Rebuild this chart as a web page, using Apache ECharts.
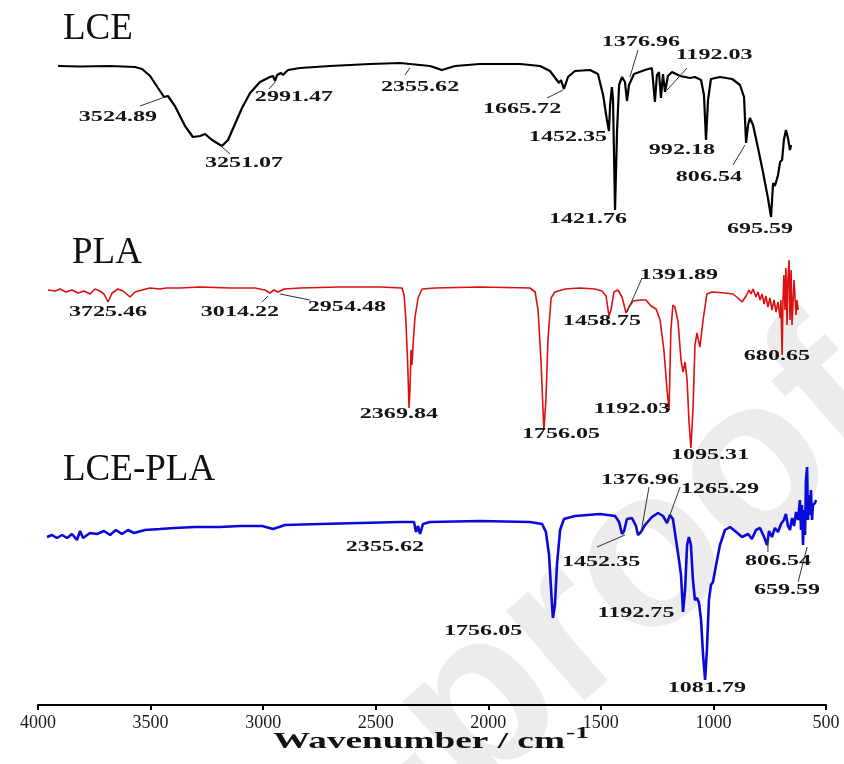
<!DOCTYPE html>
<html>
<head>
<meta charset="utf-8">
<script src="https://cdn.jsdelivr.net/npm/echarts@6/dist/echarts.min.js"></script>
<style>
html,body{margin:0;padding:0;background:#fff;}
#c{width:844px;height:764px;}
</style>
</head>
<body>
<div id="c"></div>
<script>
// ---------- data ----------
const xTicks = [4000, 3500, 3000, 2500, 2000, 1500, 1000, 500];

const lceWavenumber = [3911,3813,3680,3569,3538,3502,3467,3440,3423,3392,
  3347,3312,3280,3258,3227,3183,3156,3125,3094,3058,
  3014,2970,2956,2947,2938,2921,2912,2890,2836,2703,
  2525,2392,2259,2206,2148,2037,1859,1770,1726,1699,
  1686,1677,1664,1646,1615,1548,1513,1490,1473,1464,
  1459,1451,1446,1437,1428,1419,1406,1393,1384,1375,
  1353,1304,1273,1260,1251,1242,1233,1224,1215,1202,
  1184,1148,1104,1082,1055,1042,1033,1024,1011,971,
  917,882,864,855,846,838,824,802,780,758,
  744,735,727,713,704,695,687,678,669,660,655];
const lceSignal = [127.8,127.7,127.8,127.6,127.2,125.8,123.4,121.6,121.8,119.8,
  115.8,113.6,113.8,114.2,113.0,111.8,113.0,116.2,119.4,122.4,
  124.6,125.6,125.8,124.8,126.0,126.4,126.0,127.0,127.4,127.8,
  128.2,128.4,127.8,127.0,127.8,128.2,128.2,127.8,126.8,125.2,
  124.4,125.0,123.2,125.6,126.8,127.0,126.2,122.0,117.0,114.8,
  120.0,123.6,121.0,99.0,115.0,124.0,125.6,124.6,120.8,124.0,
  126.2,127.0,127.4,120.6,126.0,126.6,121.4,126.2,122.6,125.8,
  126.6,125.8,125.4,125.6,125.0,122.0,113.0,121.0,125.2,125.6,
  125.2,124.0,121.6,112.4,116.0,117.4,116.0,111.4,106.6,101.4,
  97.6,104.4,103.8,106.0,108.6,109.0,113.0,115.0,113.4,111.0,112.0];

const plaWavenumber = [3956,3924,3902,3876,3849,3822,3796,3769,3747,3725,
  3707,3689,3671,3645,3622,3591,3569,3538,3502,3458,
  3431,3369,3280,3147,3036,2992,2970,2952,2934,2907,
  2836,2659,2481,2383,2374,2366,2357,2352,2348,2343,
  2339,2334,2326,2312,2294,2237,2037,1815,1792,1779,
  1766,1757,1753,1744,1735,1721,1704,1659,1593,1526,
  1495,1477,1464,1455,1442,1424,1406,1388,1375,1357,
  1326,1300,1277,1255,1237,1220,1206,1197,1189,1180,
  1171,1157,1144,1135,1126,1117,1109,1100,1091,1082,
  1073,1064,1060,1046,1029,1006,949,913,891,873,
  855,842,833,824,811,802,793,784,775,767,
  758,749,740,731,722,713,704,700,695,691,
  687,682,678,673,669,664,660,655,651,642,633,629,624];
const plaSignal = [83.0,82.8,83.2,82.6,83.0,82.4,82.8,82.2,83.2,82.8,
  82.2,80.6,82.4,83.2,82.8,81.6,82.6,83.0,83.4,83.2,
  83.4,83.4,83.6,83.4,83.4,83.0,82.4,83.0,82.6,83.2,
  83.4,83.6,83.6,83.4,82.0,77.0,67.0,59.4,63.0,71.0,
  68.0,72.0,77.4,81.4,83.2,83.4,83.6,83.4,82.6,79.0,
  69.0,59.0,55.0,61.0,73.0,81.4,82.6,83.2,83.4,83.2,
  82.8,81.8,77.8,79.0,82.6,83.0,81.6,78.4,79.6,80.8,
  81.0,81.0,79.8,79.2,77.0,71.0,63.0,59.0,75.0,80.0,
  79.6,76.6,69.0,66.6,68.6,65.0,57.0,51.4,59.0,72.0,
  74.4,72.4,71.6,77.0,82.2,82.6,82.4,82.2,81.4,80.6,
  81.8,83.0,82.2,83.2,81.6,82.6,81.0,82.2,80.2,81.8,
  79.6,81.4,79.0,81.0,78.6,80.6,77.4,81.0,70.0,81.0,
  86.0,79.0,87.4,76.0,85.0,89.0,77.0,87.0,76.0,85.0,78.0,81.0,79.0];

const blendWavenumber = [3960,3938,3916,3893,3871,3849,3827,3813,3800,3769,
  3738,3707,3680,3654,3627,3600,3574,3525,3458,3392,
  3303,3192,3103,3005,2956,2903,2747,2570,2392,2330,
  2321,2312,2303,2290,2259,2037,1815,1761,1744,1730,
  1721,1713,1704,1695,1681,1664,1615,1504,1437,1419,
  1406,1397,1384,1362,1344,1335,1322,1304,1273,1246,
  1224,1206,1193,1180,1166,1153,1144,1135,1126,1117,
  1109,1100,1091,1082,1073,1064,1055,1046,1037,1029,
  1020,1011,1002,989,971,949,926,904,873,846,
  829,811,793,775,762,753,740,727,713,700,
  687,678,669,660,651,642,633,624,616,611,
  607,602,598,593,589,584,580,576,571,567,
  562,558,549,544];
const blendSignal = [33.6,34.0,33.4,34.0,33.4,34.2,33.0,34.8,33.4,34.4,
  34.2,34.8,34.0,35.0,34.2,35.0,34.4,35.0,35.2,35.4,
  35.6,35.6,35.8,35.8,35.2,36.0,36.2,36.4,36.6,36.6,
  34.6,35.8,34.2,36.2,36.6,36.8,36.6,36.2,34.6,30.0,
  23.0,17.4,20.0,28.0,35.0,37.2,37.8,38.2,37.8,36.6,
  34.2,34.8,37.2,37.4,35.8,34.0,34.6,36.0,37.6,38.4,
  37.8,36.4,38.0,37.2,33.0,29.0,26.0,18.6,23.0,32.0,
  33.6,32.0,25.0,21.0,21.4,20.4,17.0,10.0,5.0,11.0,
  21.0,24.0,24.6,27.8,32.0,35.0,35.6,34.8,33.6,34.2,
  33.2,35.0,35.4,33.6,32.0,34.8,33.6,35.4,34.6,36.2,
  37.0,38.2,35.8,35.0,37.4,35.8,38.6,37.0,41.0,35.0,
  40.0,32.0,39.0,34.0,45.0,47.6,37.0,42.0,38.0,43.0,
  37.0,40.0,40.4,41.0];

const seriesNames = ['LCE', 'PLA', 'LCE-PLA'];

// peak annotations: label text, where it sits (wavenumber, signal), optional leader line
const peakLabels = [
  {text:'3524.89', at:[3645,117.6], line:[[3547,119.8],[3436,121.6]]},
  {text:'3251.07', at:[3085,108.4], line:[[3183,111.6],[3147,110.2]]},
  {text:'2991.47', at:[2863,121.5], line:[[2974,123.2],[2947,124.6]]},
  {text:'2355.62', at:[2303,123.6], line:[[2370,126.0],[2348,127.4]]},
  {text:'1665.72', at:[1850,119.2], line:[[1739,121.4],[1668,123.0]]},
  {text:'1452.35', at:[1646,113.6]},
  {text:'1376.96', at:[1322,132.6], line:[[1335,131.0],[1371,125.6]]},
  {text:'1192.03', at:[997,130.0], line:[[1117,127.4],[1206,123.0]]},
  {text:'1421.76', at:[1557,97.1]},
  {text:'992.18', at:[1140,110.9]},
  {text:'806.54', at:[1020,105.5], line:[[913,108.0],[860,112.0]]},
  {text:'695.59', at:[793,95.2]},

  {text:'3725.46', at:[3689,78.5]},
  {text:'3014.22', at:[3103,78.6], line:[[3005,80.6],[2978,81.8]]},
  {text:'2954.48', at:[2628,79.5], line:[[2925,82.2],[2792,81.0]]},
  {text:'2369.84', at:[2397,58.2]},
  {text:'1756.05', at:[1677,54.2]},
  {text:'1458.75', at:[1495,76.8]},
  {text:'1391.89', at:[1153,85.9], line:[[1317,85.4],[1384,78.6]]},
  {text:'1192.03', at:[1362,59.1]},
  {text:'1095.31', at:[1015,50.0]},
  {text:'680.65', at:[718,69.8]},

  {text:'2355.62', at:[2459,31.6]},
  {text:'1756.05', at:[2023,14.8]},
  {text:'1452.35', at:[1499,28.6], line:[[1517,31.6],[1393,34.0]]},
  {text:'1376.96', at:[1326,45.0], line:[[1286,43.6],[1322,34.4]]},
  {text:'1265.29', at:[971,43.2], line:[[1148,43.6],[1206,36.4]]},
  {text:'1192.75', at:[1344,18.4]},
  {text:'1081.79', at:[1029,3.4]},
  {text:'806.54', at:[713,28.7], line:[[758,30.6],[758,33.4]]},
  {text:'659.59', at:[673,23.0], line:[[624,24.6],[584,31.6]]}
];

// ---------- chart ----------
const zip = (xs, ys) => xs.map((x, i) => [x, ys[i]]);
const chart = echarts.init(document.getElementById('c'), null, {renderer: 'canvas'});

const SERIF = '"Liberation Serif", "Times New Roman", serif';

chart.setOption({
  animation: false,
  backgroundColor: '#fff',
  grid: {left: 38, right: 18, top: 5, bottom: 59, containLabel: false},
  xAxis: {
    type: 'value', inverse: true, min: 500, max: 4000, interval: 500,
    axisLine: {lineStyle: {color: '#000', width: 2}},
    axisTick: {show: true, length: 5, lineStyle: {color: '#000', width: 2}},
    axisLabel: {
      fontFamily: SERIF, fontSize: 18, color: '#1a1a1a', margin: 9,
      showMinLabel: true, showMaxLabel: true,
      formatter: v => (xTicks.indexOf(v) >= 0 ? String(v) : '')
    },
    splitLine: {show: false}
  },
  yAxis: {type: 'value', min: 0, max: 140, show: false},
  series: [
    {name: seriesNames[0], type: 'line', data: zip(lceWavenumber, lceSignal), showSymbol: false,
     lineStyle: {color: '#000000', width: 2.2}, z: 5, clip: false},
    {name: seriesNames[1], type: 'line', data: zip(plaWavenumber, plaSignal), showSymbol: false,
     lineStyle: {color: '#dd0f0f', width: 1.6}, z: 5, clip: false},
    {name: seriesNames[2], type: 'line', data: zip(blendWavenumber, blendSignal), showSymbol: false,
     lineStyle: {color: '#0a0ad8', width: 2.6}, z: 5, clip: false}
  ]
});

// ---------- annotations ----------
const toPx = p => chart.convertToPixel({xAxisIndex: 0, yAxisIndex: 0}, p);
const LABEL_STRETCH = 1.72;
const els = [];

// faint watermark
els.push({type: 'text', x: 862, y: 377, rotation: 41 * Math.PI / 180, z: -10, silent: true,
  style: {text: 'Journal Pre-proof', font: 'bold 225px "Liberation Sans", Arial, sans-serif',
          fill: '#ececec', align: 'right', verticalAlign: 'middle', textAlign: 'right', textVerticalAlign: 'middle'}});

// spectrum titles
const titleBoxes = [[63, 29.5], [72, 253.5], [63, 470]];
seriesNames.forEach((n, i) => {
  els.push({type: 'text', x: titleBoxes[i][0], y: titleBoxes[i][1], z: 50,
    style: {text: n, font: '37px ' + SERIF, fill: '#111', align: 'left', verticalAlign: 'middle',
            textAlign: 'left', textVerticalAlign: 'middle'}});
});

peakLabels.forEach(a => {
  const p = toPx(a.at);
  els.push({type: 'text', x: p[0], y: p[1], scaleX: LABEL_STRETCH, z: 60,
    style: {text: a.text, font: 'bold 14px ' + SERIF, fill: '#151515', align: 'center', verticalAlign: 'middle',
            textAlign: 'center', textVerticalAlign: 'middle'}});
  if (a.line) {
    const p1 = toPx(a.line[0]), p2 = toPx(a.line[1]);
    els.push({type: 'line', z: 59, shape: {x1: p1[0], y1: p1[1], x2: p2[0], y2: p2[1]},
      style: {stroke: '#333', lineWidth: 1}});
  }
});

// axis title (stretched like the original)
els.push({type: 'text', x: 419, y: 742.5, scaleX: 1.62, z: 60,
  style: {text: 'Wavenumber / cm', font: 'bold 23px ' + SERIF, fill: '#111', align: 'center', verticalAlign: 'middle',
          textAlign: 'center', textVerticalAlign: 'middle'}});
els.push({type: 'text', x: 566, y: 734, scaleX: 1.62, z: 60,
  style: {text: '-1', font: 'bold 17px ' + SERIF, fill: '#111', align: 'left', verticalAlign: 'middle',
          textAlign: 'left', textVerticalAlign: 'middle'}});

chart.setOption({graphic: {elements: els}});
</script>
</body>
</html>
